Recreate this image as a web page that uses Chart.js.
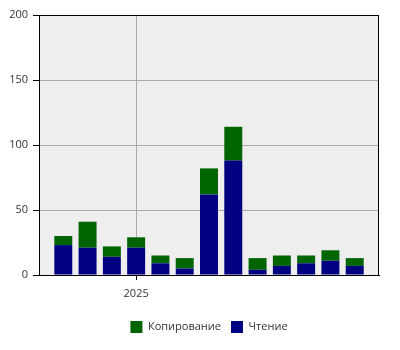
<!DOCTYPE html>
<html>
<head>
<meta charset="utf-8">
<script src="https://cdn.jsdelivr.net/npm/chart.js@4"></script>
<style>
  body { margin: 0; background: #fff; }
  #grafico { width: 400px; height: 350px; }
</style>
</head>
<body>
<div id="grafico"><canvas id="lienzo" width="400" height="350"></canvas></div>
<script>
// datos (meses 2024-10 .. 2025-10)
const meses = ['2024-10', '2024-11', '2024-12', '2025-01', '2025-02', '2025-03', '2025-04',
               '2025-05', '2025-06', '2025-07', '2025-08', '2025-09', '2025-10'];
const lectura = [23, 21, 14, 21, 9, 5, 62, 88, 4, 7, 9, 11, 7];      // Чтение
const copiado = [7, 20, 8, 8, 6, 8, 20, 26, 9, 8, 6, 8, 6];          // Копирование
const ticksY = [0, 50, 100, 150, 200];
const etiquetaAnio = '2025';

// posición de cada mes en el eje (1..13), el año empieza en enero
const posicion = meses.map((m, i) => i + 1);
const posAnio = meses.indexOf(etiquetaAnio + '-01') + 1;

Chart.defaults.font.family = "'Open Sans', sans-serif";
Chart.defaults.font.size = 11;
Chart.defaults.color = '#333';

// fondo gris del área y marco negro
const marco = {
    id: 'marco',
    beforeDraw(chart) {
        const { ctx, chartArea: a } = chart;
        ctx.save();
        ctx.fillStyle = '#eeeeee';
        ctx.fillRect(a.left, a.top, a.right - a.left, a.bottom - a.top);
        ctx.restore();
    },
    afterDraw(chart) {
        const { ctx, chartArea: a } = chart;
        ctx.save();
        ctx.strokeStyle = '#000';
        ctx.lineWidth = 1;
        ctx.strokeRect(a.left + 0.5, a.top + 0.5, a.right - a.left - 1, a.bottom - a.top);
        ctx.restore();
    }
};

new Chart(document.getElementById('lienzo'), {
    type: 'bar',
    data: {
        datasets: [
            {
                label: 'Чтение',
                data: posicion.map((x, i) => ({ x: x, y: lectura[i] })),
                backgroundColor: '#000080'
            },
            {
                label: 'Копирование',
                data: posicion.map((x, i) => ({ x: x, y: copiado[i] })),
                backgroundColor: '#006400'
            }
        ]
    },
    options: {
        responsive: false,
        animation: false,
        layout: { padding: { top: 15, right: 21, left: 0, bottom: 7 } },
        barPercentage: 0.74,
        categoryPercentage: 1,
        plugins: {
            legend: {
                position: 'bottom',
                fullSize: false,
                reverse: true,
                labels: { boxWidth: 12, boxHeight: 12, padding: 10, color: '#333' }
            },
            tooltip: { enabled: false }
        },
        scales: {
            x: {
                type: 'linear',
                stacked: true,
                min: 0,
                max: meses.length + 1,
                offset: false,
                afterBuildTicks: s => { s.ticks = [{ value: posAnio }]; },
                afterFit: s => { s.height = 36; },
                ticks: { callback: () => etiquetaAnio, maxRotation: 0, padding: 7 },
                grid: { color: '#aaaaaa', tickColor: '#000', tickLength: 5, offset: false },
                border: { color: '#000' }
            },
            y: {
                stacked: true,
                min: 0,
                max: 200,
                afterBuildTicks: s => { s.ticks = ticksY.map(v => ({ value: v })); },
                afterFit: s => { s.width = 39; },
                ticks: { padding: 5 },
                grid: { color: '#aaaaaa', tickColor: '#000', tickLength: 6 },
                border: { color: '#000' }
            }
        }
    },
    plugins: [marco]
});
</script>
</body>
</html>
